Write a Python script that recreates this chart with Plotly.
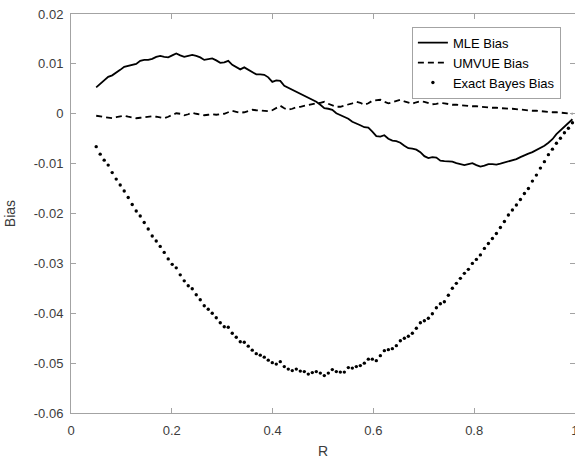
import numpy as np
import plotly.graph_objects as go

# Reliability grid (120 evaluation points)
R = np.linspace(0.05, 0.995, 120)

mle_bias = [
    0.0053, 0.0060, 0.0067, 0.0074, 0.0077, 0.0082, 0.0088, 0.0094, 0.0096, 0.0098,
    0.0100, 0.0106, 0.0108, 0.0108, 0.0110, 0.0114, 0.0116, 0.0114, 0.0113, 0.0117,
    0.0121, 0.0117, 0.0114, 0.0116, 0.0118, 0.0116, 0.0113, 0.0108, 0.0109, 0.0111,
    0.0107, 0.0102, 0.0103, 0.0106, 0.0098, 0.0093, 0.0089, 0.0093, 0.0088, 0.0084,
    0.0079, 0.0079, 0.0078, 0.0073, 0.0064, 0.0067, 0.0066, 0.0056, 0.0052, 0.0047,
    0.0044, 0.0040, 0.0036, 0.0031, 0.0027, 0.0024, 0.0018, 0.0011, 0.0010, 0.0008,
    0.0001, -0.0003, -0.0007, -0.0010, -0.0016, -0.0019, -0.0023, -0.0027, -0.0028, -0.0036,
    -0.0045, -0.0046, -0.0043, -0.0050, -0.0054, -0.0055, -0.0058, -0.0064, -0.0069, -0.0070,
    -0.0072, -0.0077, -0.0085, -0.0089, -0.0087, -0.0088, -0.0094, -0.0095, -0.0095, -0.0096,
    -0.0099, -0.0101, -0.0103, -0.0101, -0.0099, -0.0103, -0.0106, -0.0104, -0.0101, -0.0101,
    -0.0102, -0.0100, -0.0098, -0.0096, -0.0094, -0.0091, -0.0087, -0.0083, -0.0080, -0.0077,
    -0.0073, -0.0069, -0.0064, -0.0058, -0.0051, -0.0041, -0.0034, -0.0026, -0.0019, -0.0011,
]

umvue_bias = [
    -0.0004, -0.0005, -0.0006, -0.0008, -0.0009, -0.0007, -0.0005, -0.0004, -0.0006, -0.0008,
    -0.0009, -0.0008, -0.0007, -0.0006, -0.0005, -0.0006, -0.0008, -0.0009, -0.0006, -0.0002,
    0.0001, 0.0000, -0.0003, -0.0001, 0.0002, 0.0000, -0.0002, -0.0003, -0.0002, -0.0001,
    -0.0002, -0.0001, 0.0000, 0.0003, 0.0006, 0.0004, 0.0002, 0.0003, 0.0006, 0.0008,
    0.0007, 0.0006, 0.0006, 0.0005, 0.0007, 0.0012, 0.0016, 0.0011, 0.0008, 0.0010,
    0.0013, 0.0014, 0.0016, 0.0018, 0.0019, 0.0021, 0.0022, 0.0024, 0.0020, 0.0017,
    0.0014, 0.0014, 0.0016, 0.0019, 0.0021, 0.0024, 0.0022, 0.0018, 0.0021, 0.0026,
    0.0027, 0.0028, 0.0024, 0.0021, 0.0023, 0.0026, 0.0028, 0.0025, 0.0022, 0.0020,
    0.0023, 0.0025, 0.0024, 0.0021, 0.0019, 0.0020, 0.0022, 0.0021, 0.0019, 0.0018,
    0.0018, 0.0017, 0.0017, 0.0016, 0.0015, 0.0015, 0.0014, 0.0014, 0.0013, 0.0012,
    0.0012, 0.0011, 0.0011, 0.0010, 0.0010, 0.0009, 0.0008, 0.0008, 0.0007, 0.0006,
    0.0006, 0.0005, 0.0004, 0.0004, 0.0003, 0.0003, 0.0002, 0.0001, 0.0001, 0.0000,
]

bayes_bias = [
    -0.0066, -0.0081, -0.0093, -0.0103, -0.0118, -0.0131, -0.0143, -0.0155, -0.0168, -0.0182,
    -0.0195, -0.0205, -0.0218, -0.0231, -0.0245, -0.0255, -0.0266, -0.0278, -0.0291, -0.0302,
    -0.0309, -0.0323, -0.0335, -0.0345, -0.0351, -0.0363, -0.0373, -0.0385, -0.0392, -0.0400,
    -0.0409, -0.0419, -0.0427, -0.0428, -0.0440, -0.0448, -0.0457, -0.0458, -0.0466, -0.0474,
    -0.0481, -0.0484, -0.0488, -0.0494, -0.0499, -0.0502, -0.0497, -0.0507, -0.0512, -0.0515,
    -0.0512, -0.0516, -0.0517, -0.0522, -0.0519, -0.0517, -0.0520, -0.0525, -0.0520, -0.0513,
    -0.0517, -0.0518, -0.0518, -0.0509, -0.0510, -0.0507, -0.0505, -0.0500, -0.0492, -0.0492,
    -0.0495, -0.0485, -0.0475, -0.0473, -0.0471, -0.0465, -0.0455, -0.0450, -0.0446, -0.0440,
    -0.0430, -0.0419, -0.0415, -0.0410, -0.0401, -0.0389, -0.0381, -0.0377, -0.0364, -0.0350,
    -0.0340, -0.0330, -0.0320, -0.0312, -0.0300, -0.0292, -0.0283, -0.0270, -0.0260, -0.0250,
    -0.0240, -0.0228, -0.0216, -0.0203, -0.0193, -0.0183, -0.0172, -0.0160, -0.0150, -0.0135,
    -0.0123, -0.0109, -0.0096, -0.0082, -0.0071, -0.0059, -0.0049, -0.0038, -0.0029, -0.0018,
]

x_ticks = [0, 0.2, 0.4, 0.6, 0.8, 1]
x_tick_text = ["0", "0.2", "0.4", "0.6", "0.8", "1"]
y_ticks = [0.02, 0.01, 0, -0.01, -0.02, -0.03, -0.04, -0.05, -0.06]
y_tick_text = ["0.02", "0.01", "0", "-0.01", "-0.02", "-0.03", "-0.04", "-0.05", "-0.06"]

FONT = "Liberation Sans, Arial, Helvetica, sans-serif"
AXIS_GRAY = "#a3a3a3"
TEXT_GRAY = "#3c3c3c"

fig = go.Figure()
fig.add_trace(go.Scatter(
    x=R, y=mle_bias, mode="lines", name="MLE Bias",
    line=dict(color="black", width=1.8),
))
fig.add_trace(go.Scatter(
    x=R, y=umvue_bias, mode="lines", name="UMVUE Bias",
    line=dict(color="black", width=1.8, dash="6px,4px"),
))
fig.add_trace(go.Scatter(
    x=R, y=bayes_bias, mode="markers", name="Exact Bayes Bias",
    marker=dict(color="black", size=3.4),
))

axis_common = dict(
    showline=True, linecolor=AXIS_GRAY, linewidth=1, mirror="allticks",
    ticks="inside", ticklen=5, tickcolor=AXIS_GRAY, tickwidth=1,
    showgrid=False, zeroline=False, ticklabeloverflow="allow", automargin=False,
    tickfont=dict(family=FONT, size=13, color=TEXT_GRAY),
)

fig.update_layout(
    width=575, height=465,
    margin=dict(l=71, r=0, t=14, b=52),
    paper_bgcolor="white", plot_bgcolor="white",
    font=dict(family=FONT, color=TEXT_GRAY),
    xaxis=dict(
        range=[0, 1.0001], tickmode="array", tickvals=x_ticks, ticktext=x_tick_text,
        ticklabelstandoff=5,
        title=dict(text="R", font=dict(family=FONT, size=14, color=TEXT_GRAY), standoff=9),
        **axis_common,
    ),
    yaxis=dict(
        range=[-0.06, 0.02], tickmode="array", tickvals=y_ticks, ticktext=y_tick_text,
        ticklabelstandoff=4,
        title=dict(text="Bias", font=dict(family=FONT, size=14, color=TEXT_GRAY), standoff=14),
        **axis_common,
    ),
    legend=dict(
        x=0.972, xanchor="right", y=0.968, yanchor="top",
        bgcolor="white", bordercolor=AXIS_GRAY, borderwidth=1,
        font=dict(family=FONT, size=13, color="black"),
        tracegroupgap=0,
    ),
    showlegend=True,
)

fig.write_html("out.html")
